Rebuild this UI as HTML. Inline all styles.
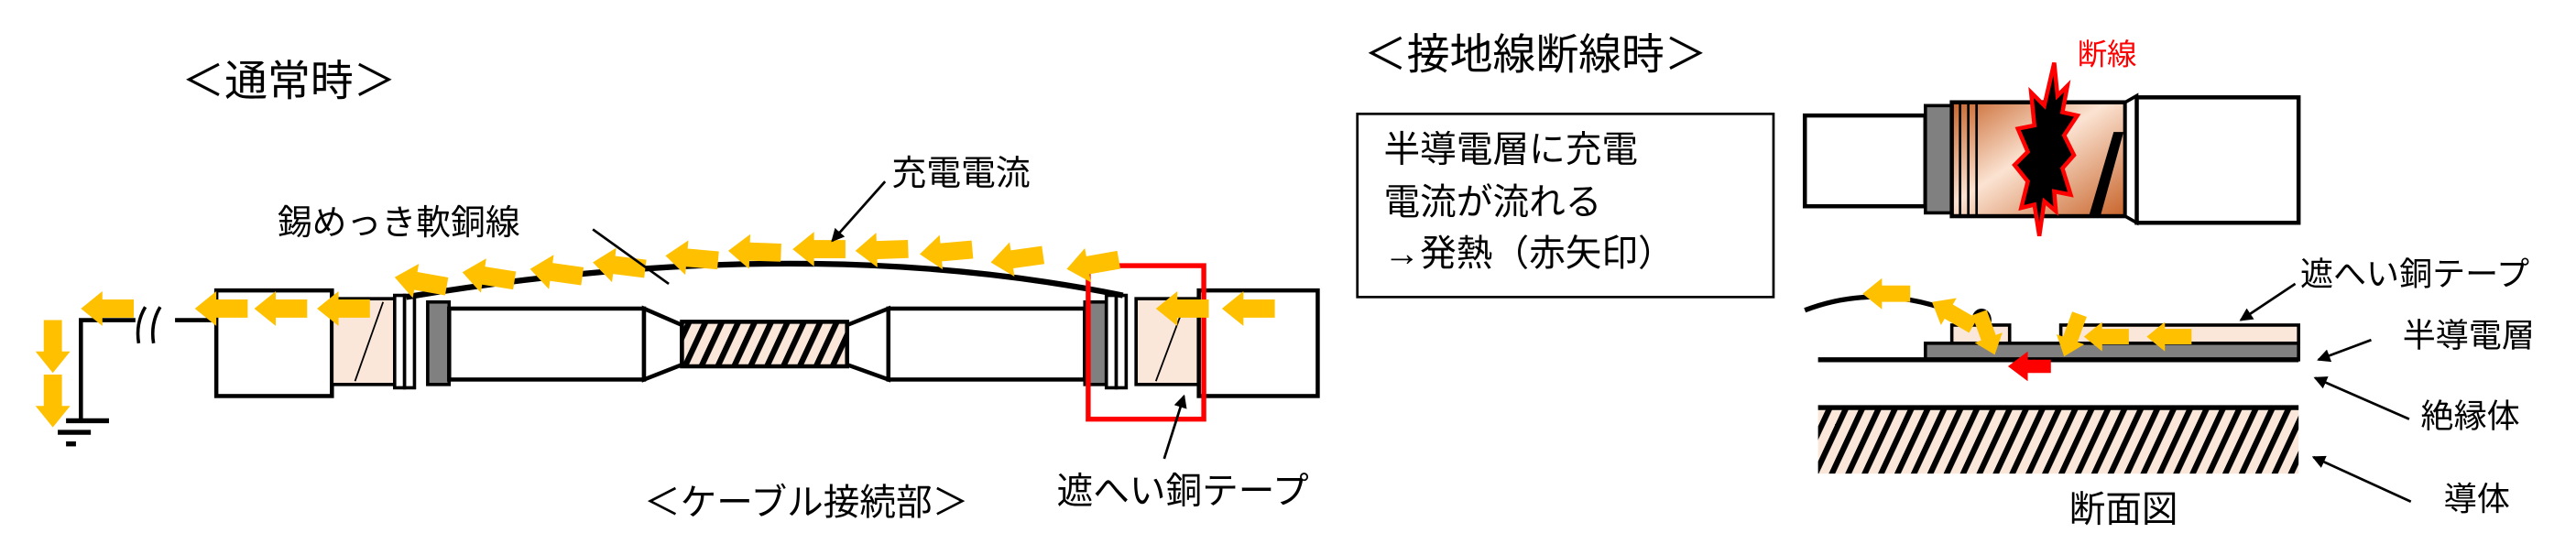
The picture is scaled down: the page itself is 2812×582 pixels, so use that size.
<!DOCTYPE html>
<html><head><meta charset="utf-8"><style>
html,body{margin:0;padding:0;background:#fff;}
svg{display:block;}
text{font-family:"Liberation Sans","Noto Sans CJK JP",sans-serif;fill:#000;}
</style></head><body>
<svg width="2812" height="582" viewBox="0 0 1560 323" preserveAspectRatio="none" xmlns="http://www.w3.org/2000/svg">
<defs>
<pattern id="h" patternUnits="userSpaceOnUse" width="9" height="9" patternTransform="rotate(25)">
<rect width="9" height="9" fill="#fbe7da"/><rect width="3.5" height="9" fill="#000"/></pattern>
<linearGradient id="cu" x1="0" x2="1" y1="0" y2="1">
<stop offset="0" stop-color="#c8642a"/><stop offset="0.45" stop-color="#fbe3d2"/><stop offset="1" stop-color="#c8642a"/></linearGradient>
<polygon id="a" points="0,0 13,-10.5 13,-5.5 32,-5.5 32,5.5 13,5.5 13,10.5" fill="#FFC000"/>
<marker id="m" markerWidth="8" markerHeight="8" refX="7" refY="4" orient="auto" markerUnits="userSpaceOnUse"><polygon points="0,0 8,4 0,8" fill="#000"/></marker>
</defs>

<text x="110" y="58" font-size="26">＜通常時＞</text>

<!-- ground -->
<polyline points="49,254 49,194 82,194" fill="none" stroke="#000" stroke-width="2.5"/>
<line x1="106" y1="194" x2="130" y2="194" stroke="#000" stroke-width="2.5"/>
<path d="M88,186 q-6,10 -4,22 M97,186 q-6,10 -4,22" fill="none" stroke="#000" stroke-width="2"/>
<line x1="40" y1="255" x2="66" y2="255" stroke="#000" stroke-width="3"/>
<line x1="35" y1="262" x2="55" y2="262" stroke="#000" stroke-width="3"/>
<line x1="40" y1="269" x2="46" y2="269" stroke="#000" stroke-width="3"/>

<!-- cable joint -->
<rect x="131" y="176" width="70" height="64" fill="#fff" stroke="#000" stroke-width="2.5"/>
<rect x="201" y="181" width="38" height="52" fill="#fbe7da" stroke="#000" stroke-width="2"/>
<line x1="215" y1="231" x2="232" y2="183" stroke="#000" stroke-width="1"/>
<rect x="239" y="179" width="6" height="56" fill="#fff" stroke="#000" stroke-width="2"/>
<rect x="245" y="179" width="6" height="56" fill="#fff" stroke="#000" stroke-width="2"/>
<rect x="259" y="183" width="13" height="50" fill="#808080" stroke="#000" stroke-width="2"/>
<rect x="272" y="187" width="118" height="43" fill="#fff" stroke="#000" stroke-width="2.5"/>
<polygon points="390,187 413,197 413,221 390,230" fill="#fff" stroke="#000" stroke-width="2.5"/>
<rect x="413" y="195" width="100" height="27" fill="url(#h)" stroke="#000" stroke-width="2.5"/>
<polygon points="538,187 513,197 513,221 538,230" fill="#fff" stroke="#000" stroke-width="2.5"/>
<rect x="538" y="187" width="119" height="43" fill="#fff" stroke="#000" stroke-width="2.5"/>
<rect x="657" y="183" width="13" height="50" fill="#808080" stroke="#000" stroke-width="2"/>
<rect x="670" y="179" width="6" height="56" fill="#fff" stroke="#000" stroke-width="2"/>
<rect x="676" y="179" width="6" height="56" fill="#fff" stroke="#000" stroke-width="2"/>
<rect x="688" y="181" width="38" height="52" fill="#fbe7da" stroke="#000" stroke-width="2"/>
<line x1="700" y1="231" x2="718" y2="183" stroke="#000" stroke-width="1"/>
<rect x="726" y="176" width="72" height="64" fill="#fff" stroke="#000" stroke-width="2.5"/>
<path d="M246,180 Q487,140 680,179" fill="none" stroke="#000" stroke-width="3.5"/>
<rect x="659" y="161" width="70" height="93" fill="none" stroke="#f00" stroke-width="3"/>

<!-- yellow arrows -->
<use href="#a" x="49" y="187"/><use href="#a" x="118" y="187"/><use href="#a" x="154" y="187"/><use href="#a" x="192" y="187"/>
<use href="#a" x="700" y="187"/><use href="#a" x="740" y="187"/>
<use href="#a" transform="translate(239,168) rotate(10)"/>
<use href="#a" transform="translate(280,165) rotate(9)"/>
<use href="#a" transform="translate(321,163) rotate(8)"/>
<use href="#a" transform="translate(359,159) rotate(7)"/>
<use href="#a" transform="translate(403,155) rotate(5)"/>
<use href="#a" transform="translate(441,152) rotate(2)"/>
<use href="#a" transform="translate(480,151)"/>
<use href="#a" transform="translate(518,152) rotate(-2)"/>
<use href="#a" transform="translate(557,154) rotate(-5)"/>
<use href="#a" transform="translate(600,159) rotate(-8)"/>
<use href="#a" transform="translate(646,163) rotate(-10)"/>
<use href="#a" transform="translate(32,226) rotate(-90)"/>
<use href="#a" transform="translate(32,259) rotate(-90)"/>

<!-- labels -->
<text x="168" y="142" font-size="21">錫めっき軟銅線</text>
<line x1="359" y1="139" x2="405" y2="172" stroke="#000" stroke-width="1.5"/>
<text x="540" y="112" font-size="21">充電電流</text>
<line x1="536" y1="110" x2="504" y2="146" stroke="#000" stroke-width="1.5" marker-end="url(#m)"/>
<text x="390" y="312" font-size="22">＜ケーブル接続部＞</text>
<text x="640" y="305" font-size="22">遮へい銅テープ</text>
<line x1="705" y1="278" x2="717" y2="240" stroke="#000" stroke-width="1.5" marker-end="url(#m)"/>

<!-- right side -->
<text x="826" y="42" font-size="26">＜接地線断線時＞</text>
<text x="1258" y="39" font-size="18" style="fill:#f00">断線</text>
<rect x="822" y="69" width="252" height="111" fill="#fff" stroke="#000" stroke-width="1.5"/>
<text x="838" y="98" font-size="22">半導電層に充電</text>
<text x="838" y="130" font-size="22">電流が流れる</text>
<text x="838" y="161" font-size="22"> →発熱（赤矢印）</text>

<rect x="1093" y="70" width="73" height="55" fill="#fff" stroke="#000" stroke-width="2.5"/>
<rect x="1166" y="64" width="16" height="65" fill="#808080" stroke="#000" stroke-width="2"/>
<rect x="1182" y="62" width="105" height="69" fill="url(#cu)" stroke="#000" stroke-width="2.5"/>
<line x1="1187" y1="62" x2="1187" y2="131" stroke="#000" stroke-width="1.5"/>
<line x1="1192" y1="62" x2="1192" y2="131" stroke="#000" stroke-width="1.5"/>
<line x1="1197" y1="62" x2="1197" y2="131" stroke="#000" stroke-width="1.5"/>
<polygon points="1265,131 1280,80 1286,80 1272,131" fill="#000"/>
<polygon points="1287,62 1294,58 1294,135 1287,131" fill="#fff" stroke="#000" stroke-width="2"/>
<rect x="1294" y="59" width="98" height="76" fill="#fff" stroke="#000" stroke-width="2.5"/>
<polygon points="1244,38 1246,58 1252,52 1249,68 1258,70 1250,82 1256,94 1249,102 1254,118 1244,116 1245,128 1238,122 1235,143 1232,124 1224,126 1228,110 1220,100 1228,92 1222,78 1232,76 1230,56 1238,64" fill="#000" stroke="#f00" stroke-width="2.5"/>

<!-- cross-section -->
<path d="M1093,188 Q1140,170 1190,192" fill="none" stroke="#000" stroke-width="3"/>
<ellipse cx="1200" cy="194" rx="6" ry="7" fill="#000"/>
<rect x="1182" y="197" width="35" height="11" fill="#fbe7da" stroke="#000" stroke-width="2"/>
<rect x="1248" y="197" width="144" height="11" fill="#fbe7da" stroke="#000" stroke-width="2"/>
<rect x="1166" y="208" width="226" height="10" fill="#808080" stroke="#000" stroke-width="2"/>
<line x1="1101" y1="218" x2="1392" y2="218" stroke="#000" stroke-width="3"/>
<rect x="1101" y="248" width="291" height="39" fill="url(#h)"/>
<line x1="1101" y1="247" x2="1392" y2="247" stroke="#000" stroke-width="3"/>
<use href="#a" transform="translate(1128,178) scale(0.9)"/>
<use href="#a" transform="translate(1170,183) rotate(30) scale(0.9)"/>
<use href="#a" transform="translate(1208,215) rotate(-110) scale(0.85)"/>
<use href="#a" transform="translate(1250,216) rotate(-70) scale(0.85)"/>
<use href="#a" transform="translate(1262,204) scale(0.85)"/>
<use href="#a" transform="translate(1300,204) scale(0.85)"/>
<polygon points="1216,222 1228,213 1228,218 1242,218 1242,226 1228,226 1228,231" fill="#f00"/>

<text x="1393" y="173" font-size="20">遮へい銅テープ</text>
<line x1="1390" y1="172" x2="1357" y2="194" stroke="#000" stroke-width="1.5" marker-end="url(#m)"/>
<text x="1455" y="210" font-size="20">半導電層</text>
<line x1="1436" y1="206" x2="1404" y2="218" stroke="#000" stroke-width="1.5" marker-end="url(#m)"/>
<text x="1466" y="259" font-size="20">絶縁体</text>
<line x1="1459" y1="254" x2="1402" y2="229" stroke="#000" stroke-width="1.5" marker-end="url(#m)"/>
<text x="1480" y="309" font-size="20">導体</text>
<line x1="1460" y1="304" x2="1401" y2="277" stroke="#000" stroke-width="1.5" marker-end="url(#m)"/>
<text x="1253" y="316" font-size="22">断面図</text>
</svg>
</body></html>
